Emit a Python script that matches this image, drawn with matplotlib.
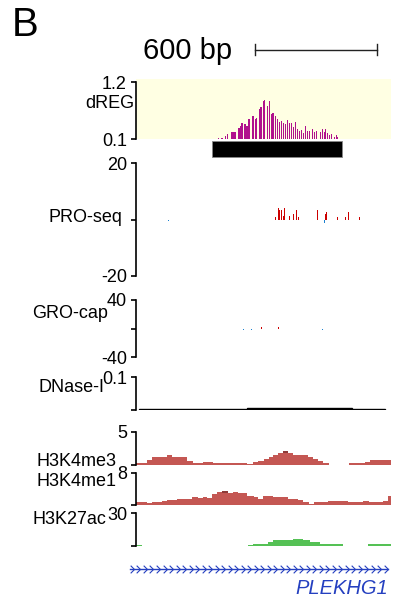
import numpy as np
import matplotlib
matplotlib.use('Agg')
import matplotlib.pyplot as plt
from matplotlib.path import Path

plt.rcParams['font.family'] = ['Liberation Sans', 'DejaVu Sans']

# genome window (bp from window start)
win_start, win_end = 0, 1254
scale_bar_start, scale_bar_len = 585, 600

# dREG scores
dreg_pos = [405, 423, 441, 449, 469, 476, 482, 488, 507, 513, 521, 536, 546, 552, 559,
            575, 587, 594, 606, 615, 626, 633, 646, 656, 667, 674, 685, 695, 705, 715,
            724, 734, 744, 754, 764, 774, 783, 793, 803, 813, 823, 833, 843, 852, 867,
            877, 887, 906, 916, 926, 931, 941, 951, 961, 975, 985, 990]
dreg_val = [0.12, 0.12, 0.16, 0.19, 0.24, 0.24, 0.24, 0.24, 0.31, 0.36, 0.41, 0.38, 0.35, 0.49, 0.48,
            0.54, 0.49, 0.51, 0.68, 0.72, 0.83, 0.85, 0.74, 0.83, 0.59, 0.60, 0.54, 0.49, 0.43, 0.45,
            0.40, 0.39, 0.47, 0.41, 0.41, 0.33, 0.43, 0.29, 0.25, 0.28, 0.21, 0.35, 0.25, 0.25, 0.29,
            0.24, 0.25, 0.24, 0.29, 0.24, 0.29, 0.21, 0.18, 0.20, 0.14, 0.18, 0.14]
dreg_peak = (374, 1013)

# PRO-seq reads (plus strand up, minus strand down)
pro_plus_pos = [687, 700, 708, 717, 723, 729, 754, 774, 787, 798, 892, 933, 938, 990, 1031, 1044, 1098]
pro_plus_val = [1.0, 3.9, 3.2, 3.2, 1.2, 3.9, 1.2, 1.8, 3.2, 1.0, 3.2, 1.8, 2.6, 1.0, 1.0, 2.6, 1.0]
pro_minus_pos = [159, 738, 926]
pro_minus_val = [-0.7, -0.7, -1.4]

# GRO-cap reads
gro_plus_pos = [616, 702]
gro_plus_val = [2.0, 1.5]
gro_minus_pos = [528, 569, 918, 930]
gro_minus_val = [-1.5, -1.5, -1.5, -1.5]

# DNase-I signal
dnase_edges = [15, 544, 1061, 1224]
dnase_val = [0.002, 0.005, 0.002]

# histone ChIP-seq coverage (step tracks)
me3_edges = [0, 53, 77, 151, 176, 249, 282, 328, 377, 547, 577, 601, 630, 656, 675, 700,
             724, 749, 774, 847, 872, 897, 921, 949, 1048, 1126, 1151, 1254]
me3_val = [0.31, 0.73, 1.2, 1.56, 1.2, 0.67, 0.31, 0.47, 0.31, 0.16, 0.42, 0.67, 0.94, 1.25,
           1.5, 1.77, 2.08, 1.83, 1.56, 1.2, 0.94, 0.67, 0.31, 0.0, 0.31, 0.47, 0.78]

me1_edges = [0, 53, 77, 126, 151, 200, 274, 306, 328, 351, 372, 397, 421, 454, 479, 503, 547,
             580, 601, 623, 675, 749, 798, 823, 851, 875, 946, 1044, 1118, 1147, 1216, 1241, 1254]
me1_val = [0.74, 0.5, 0.74, 0.99, 1.24, 1.49, 1.98, 1.73, 1.98, 1.73, 2.72, 3.15, 3.39, 2.97,
           3.22, 2.97, 2.23, 1.98, 1.49, 2.23, 1.98, 1.49, 1.24, 0.74, 0.25, 0.74, 0.99, 0.74,
           0.99, 0.74, 0.99, 2.23]

k27_edges = [0, 28, 551, 575, 649, 674, 772, 821, 856, 905, 1018, 1141, 1254]
k27_val = [0.92, 0.0, 0.92, 1.83, 3.4, 5.8, 6.7, 5.8, 3.9, 1.6, 0.0, 1.6]

# gene model
gene_name = 'PLEKHG1'
gene_start, gene_end = -30, 1239

W, H = 394, 602
fig = plt.figure(figsize=(W / 100, H / 100), dpi=100)


def px_axes(left, top, right, bottom):
    return fig.add_axes([left / W, 1 - bottom / H, (right - left) / W, (bottom - top) / H])


def track(top, bottom, ylim, ticks, labels):
    ax = px_axes(136, top, 391, bottom)
    ax.set_xlim(win_start, win_end)
    ax.set_ylim(*ylim)
    for s in ['top', 'right', 'bottom']:
        ax.spines[s].set_visible(False)
    ax.spines['left'].set_linewidth(1.2)
    ax.set_xticks([])
    ax.set_yticks(ticks)
    ax.set_yticklabels(labels)
    ax.tick_params(axis='y', length=3.5, width=1.2, pad=3, labelsize=13)
    ax.patch.set_alpha(0)
    return ax


def name(text, right, y):
    fig.text(right / W, 1 - y / H, text, ha='right', va='center', fontsize=13)


# panel letter and scale bar
fig.text(12 / W, 1 - 25 / H, 'B', fontsize=29, va='center', ha='left')
sax = px_axes(136, 40, 391, 62)
sax.set_xlim(win_start, win_end)
sax.set_ylim(0, 1)
sax.axis('off')
sb_end = scale_bar_start + scale_bar_len
sax.plot([scale_bar_start, sb_end], [0.55, 0.55], color='#222222', lw=1)
sax.plot([scale_bar_start] * 2, [0.3, 0.8], color='#222222', lw=1)
sax.plot([sb_end] * 2, [0.3, 0.8], color='#222222', lw=1)
fig.text(188 / W, 1 - 51 / H, f'{scale_bar_len} bp', fontsize=21, ha='center', va='center')

# dREG
ax = track(79, 139, (0.1, 1.258), [0.1, 1.2], ['0.1', '1.2'])
ax.patch.set_alpha(1)
ax.set_facecolor('#FFFFE3')
ax.spines['left'].set_bounds(0.1, 1.2)
ax.bar(dreg_pos, np.array(dreg_val) - 0.1, width=6, bottom=0.1, color='#B0118D', lw=0)
name('dREG', 134, 104)

# dREG peak call
pax = px_axes(136, 141, 391, 157)
pax.set_xlim(win_start, win_end)
pax.set_ylim(0, 1)
pax.axis('off')
pax.broken_barh([(dreg_peak[0], dreg_peak[1] - dreg_peak[0])], (0, 1),
                facecolor='black', edgecolor='#888888', lw=0.6)

# PRO-seq
ax = track(163, 276, (-20, 20), [-20, 0, 20], ['-20', '', '20'])
ax.bar(pro_plus_pos, pro_plus_val, width=5, color='#CC0000', lw=0)
ax.bar(pro_minus_pos, pro_minus_val, width=4, color='#1A80D0', lw=0)
name('PRO-seq', 122, 218)

# GRO-cap
ax = track(300, 357, (-40, 40), [-40, 0, 40], ['-40', '', '40'])
ax.bar(gro_plus_pos, gro_plus_val, width=4, color='#CC0000', lw=0)
ax.bar(gro_minus_pos, gro_minus_val, width=3, color='#1A80D0', lw=0)
name('GRO-cap', 108, 314)

# DNase-I
ax = track(377, 410, (0, 0.1), [0, 0.1], ['', '0.1'])
ax.stairs(dnase_val, dnase_edges, fill=True, color='black', lw=1)
ax.stairs(dnase_val, dnase_edges, color='black', lw=1)
name('DNase-I', 104, 388)

# histone marks
hist_red = '#C45753'
ax = track(432, 465, (0, 5), [0, 5], ['', '5'])
ax.stairs(me3_val, me3_edges, fill=True, color=hist_red)
i = int(np.argmax(me3_val))
ax.stairs([me3_val[i]], me3_edges[i:i + 2], baseline=me3_val[i] - 0.22, fill=True, color='#8E3A38')
name('H3K4me3', 117, 461)

ax = track(472.5, 505, (0, 8), [0, 8], ['', '8'])
ax.stairs(me1_val, me1_edges, fill=True, color=hist_red)
i = int(np.argmax(me1_val))
ax.stairs([me1_val[i]], me1_edges[i:i + 2], baseline=me1_val[i] - 0.35, fill=True, color='#8E3A38')
name('H3K4me1', 117, 482)

ax = track(513, 546, (0, 30), [0, 30], ['', '30'])
ax.stairs(k27_val, k27_edges, fill=True, color='#55C155')
name('H3K27ac', 106, 520)

# gene track with intron arrows
gax = px_axes(136, 560, 391, 578)
gax.set_xlim(win_start, win_end)
gax.set_ylim(0, 1)
gax.axis('off')
gene_blue = '#2540C0'
gax.plot([gene_start, gene_end], [0.5, 0.5], color=gene_blue, lw=1, clip_on=False)
chevron = Path([(-1, 1), (0, 0), (-1, -1)], [Path.MOVETO, Path.LINETO, Path.LINETO])
arrows = np.arange(gene_start + 20, gene_end, 32)
gax.plot(arrows, np.full(len(arrows), 0.5), ls='none', marker=chevron, ms=5.5,
         mfc='none', mec=gene_blue, mew=0.8, clip_on=False)
fig.text(388 / W, 1 - 589 / H, gene_name, fontsize=14.5, style='italic', color=gene_blue,
         ha='right', va='center')

fig.savefig('out.png', dpi=100)
